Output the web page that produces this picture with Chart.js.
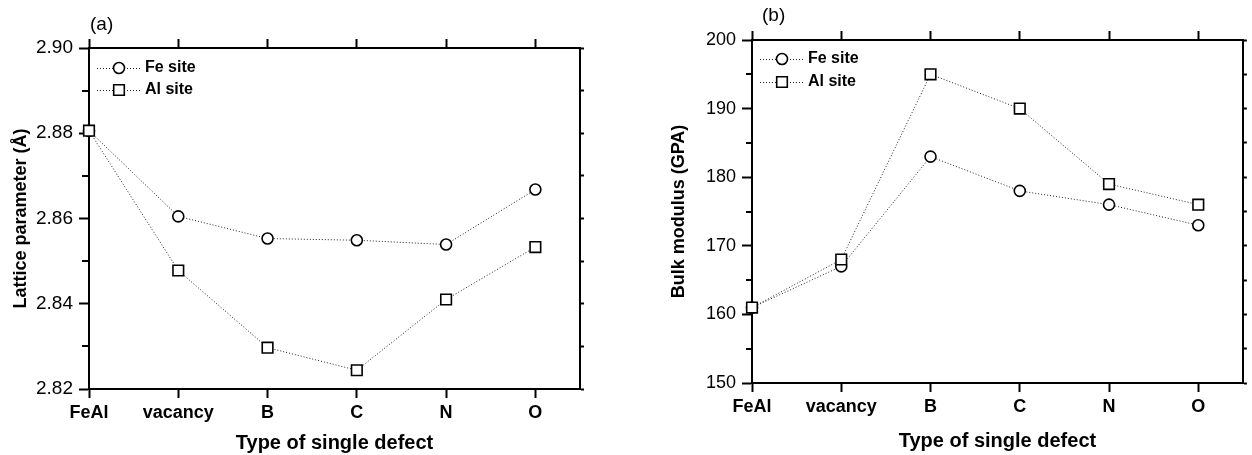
<!DOCTYPE html>
<html>
<head>
<meta charset="utf-8">
<script src="https://cdn.jsdelivr.net/npm/chart.js@4.4.1/dist/chart.umd.min.js"></script>
<style>
html,body{margin:0;padding:0;background:#fff;}
#wrap{position:relative;width:1252px;height:455px;overflow:hidden;}
.box{position:absolute;top:0;width:626px;height:455px;}
canvas{display:block;}
</style>
</head>
<body>
<div id="wrap">
  <div class="box" style="left:0"><canvas id="ca" width="626" height="455"></canvas></div>
  <div class="box" style="left:626px"><canvas id="cb" width="626" height="455"></canvas></div>
</div>
<script>
// ---------- data ----------
const categories = ['FeAl', 'vacancy', 'B', 'C', 'N', 'O'];
const seriesNames = ['Fe site', 'Al site'];

const latticeFe = [2.8806, 2.8605, 2.8553, 2.8549, 2.8539, 2.8668];
const latticeAl = [2.8806, 2.8478, 2.8297, 2.8244, 2.8410, 2.8533];
const latticeMajorTicks = [2.82, 2.84, 2.86, 2.88, 2.90];
const latticeMinorTicks = [2.83, 2.85, 2.87, 2.89];

const bulkFe = [161, 167, 183, 178, 176, 173];
const bulkAl = [161, 168, 195, 190, 179, 176];
const bulkMajorTicks = [150, 160, 170, 180, 190, 200];
const bulkMinorTicks = [155, 165, 175, 185, 195];

// ---------- drawing ----------
const FONT = '"Liberation Sans", Arial, Helvetica, sans-serif';
const H = 455, W = 626;

function drawMarker(ctx, style, x, y) {
  ctx.save();
  ctx.setLineDash([]);
  ctx.lineWidth = 1.6;
  ctx.strokeStyle = '#000';
  ctx.fillStyle = '#fff';
  ctx.beginPath();
  if (style === 'circle') {
    ctx.arc(x, y, 5.5, 0, Math.PI * 2);
  } else {
    ctx.rect(x - 5.3, y - 5.3, 10.6, 10.6);
  }
  ctx.fill();
  ctx.stroke();
  ctx.restore();
}

const panelPlugin = {
  id: 'panel',
  afterDraw(chart, args, opts) {
    const ctx = chart.ctx;
    const a = chart.chartArea;
    const ys = chart.scales.y;
    ctx.save();
    // minor ticks on left axis
    ctx.strokeStyle = '#000';
    ctx.lineWidth = 2;
    opts.minor.forEach(v => {
      const py = Math.round(ys.getPixelForValue(v));
      ctx.beginPath();
      ctx.moveTo(a.left - opts.minorLen, py);
      ctx.lineTo(a.left, py);
      ctx.stroke();
    });
    // panel label
    ctx.fillStyle = '#000';
    ctx.font = '19px ' + FONT;
    ctx.textAlign = 'left';
    ctx.textBaseline = 'middle';
    ctx.fillText(opts.label, a.left + opts.labelDx, opts.labelY);
    // legend inside plot
    ctx.font = 'bold 16px ' + FONT;
    opts.legendOrder.forEach((dsIndex, i) => {
      const ds = chart.data.datasets[dsIndex];
      const y = a.top + opts.legendY + i * opts.legendGap;
      ctx.save();
      ctx.strokeStyle = ds.borderColor;
      ctx.lineWidth = ds.borderWidth;
      ctx.setLineDash(ds.borderDash);
      ctx.beginPath();
      ctx.moveTo(a.left + 8, y + 0.5);
      ctx.lineTo(a.left + 52, y + 0.5);
      ctx.stroke();
      ctx.restore();
      drawMarker(ctx, ds.pointStyle, a.left + 30, y);
      ctx.fillStyle = '#000';
      ctx.fillText(ds.label, a.left + 56, y);
    });
    ctx.restore();
  }
};

function makeChart(canvasId, cfg) {
  const area = cfg.area;
  const allTicks = cfg.major.concat(cfg.minor).sort((p, q) => p - q);
  const pts = arr => arr.map((v, i) => ({ x: i, y: v }));
  const dsBase = {
    borderColor: '#222',
    borderWidth: 1,
    borderDash: [1, 2],
    backgroundColor: '#fff',
    pointBackgroundColor: '#fff',
    pointBorderColor: '#000',
    pointBorderWidth: 1.6,
    showLine: true,
    tension: 0,
    clip: false
  };
  return new Chart(document.getElementById(canvasId), {
    type: 'line',
    data: {
      datasets: [
        Object.assign({}, dsBase, { label: seriesNames[0], data: pts(cfg.fe), pointStyle: 'circle', pointRadius: 5.5, order: 1 }),
        Object.assign({}, dsBase, { label: seriesNames[1], data: pts(cfg.al), pointStyle: 'rect', pointRadius: 7.5, order: 0 })
      ]
    },
    options: {
      responsive: false,
      animation: false,
      events: [],
      layout: { padding: 0 },
      plugins: {
        legend: { display: false },
        tooltip: { enabled: false },
        panel: {
          minor: cfg.minor, minorLen: cfg.minorLen,
          label: cfg.label, labelDx: cfg.labelDx, labelY: cfg.labelY,
          legendOrder: [0, 1], legendY: cfg.legendY, legendGap: cfg.legendGap
        }
      },
      scales: {
        x: {
          type: 'linear', position: 'bottom', min: 0, max: 5.5,
          afterBuildTicks: s => { s.ticks = categories.map((c, i) => ({ value: i })); },
          afterFit: s => { s.height = H - area.bottom; },
          ticks: { autoSkip: false, maxRotation: 0, minRotation: 0, padding: 4, color: '#000',
                   font: { family: FONT, size: 18, weight: 'bold' },
                   callback: v => categories[v] },
          grid: { drawOnChartArea: false, drawTicks: true, tickLength: 9, tickColor: '#000', tickWidth: 2 },
          border: { display: true, color: '#000', width: 2 },
          title: { display: true, text: 'Type of single defect', color: '#000',
                   font: { family: FONT, size: 20, weight: 'bold' }, padding: { top: 0, bottom: cfg.xTitlePad } }
        },
        x2: {
          type: 'linear', position: 'top', min: 0, max: 5.5,
          afterBuildTicks: s => { s.ticks = categories.map((c, i) => ({ value: i })); },
          afterFit: s => { s.height = area.top; },
          ticks: { display: false },
          grid: { drawOnChartArea: false, drawTicks: true, tickLength: 9, tickColor: '#000', tickWidth: 2 },
          border: { display: true, color: '#000', width: 2 }
        },
        y: {
          type: 'linear', position: 'left', min: cfg.yMin, max: cfg.yMax,
          afterBuildTicks: s => { s.ticks = cfg.major.map(v => ({ value: v })); },
          afterFit: s => { s.width = area.left; },
          ticks: { padding: 6, color: '#000', font: { family: FONT, size: cfg.yTickSize }, callback: cfg.fmt },
          grid: { drawOnChartArea: false, drawTicks: true, tickLength: 10, tickColor: '#000', tickWidth: 2 },
          border: { display: true, color: '#000', width: 2 },
          title: { display: true, text: cfg.yTitle, color: '#000',
                   font: { family: FONT, size: 18, weight: 'bold' }, padding: { top: cfg.yTitlePad, bottom: 0 } }
        },
        y2: {
          type: 'linear', position: 'right', min: cfg.yMin, max: cfg.yMax,
          afterBuildTicks: s => { s.ticks = allTicks.map(v => ({ value: v })); },
          afterFit: s => { s.width = W - area.right; },
          ticks: { display: false },
          grid: { drawOnChartArea: false, drawTicks: true, tickLength: 4, tickColor: '#000', tickWidth: 2 },
          border: { display: true, color: '#000', width: 2 }
        }
      }
    },
    plugins: [panelPlugin]
  });
}

makeChart('ca', {
  fe: latticeFe, al: latticeAl,
  yMin: 2.82, yMax: 2.90,
  major: latticeMajorTicks, minor: latticeMinorTicks, minorLen: 7,
  fmt: v => v.toFixed(2), yTickSize: 19,
  yTitle: 'Lattice parameter (Å)', yTitlePad: 10,
  area: { left: 89, top: 48, right: 580, bottom: 389 },
  xTitlePad: 0,
  label: '(a)', labelDx: 1, labelY: 25,
  legendY: 20, legendGap: 22
});

makeChart('cb', {
  fe: bulkFe, al: bulkAl,
  yMin: 150, yMax: 200,
  major: bulkMajorTicks, minor: bulkMinorTicks, minorLen: 6,
  fmt: v => String(v), yTickSize: 18,
  yTitle: 'Bulk modulus (GPA)', yTitlePad: 42,
  area: { left: 126, top: 40, right: 620, bottom: 383 },
  xTitlePad: 2,
  label: '(b)', labelDx: 10, labelY: 16,
  legendY: 19, legendGap: 23
});
</script>
</body>
</html>
